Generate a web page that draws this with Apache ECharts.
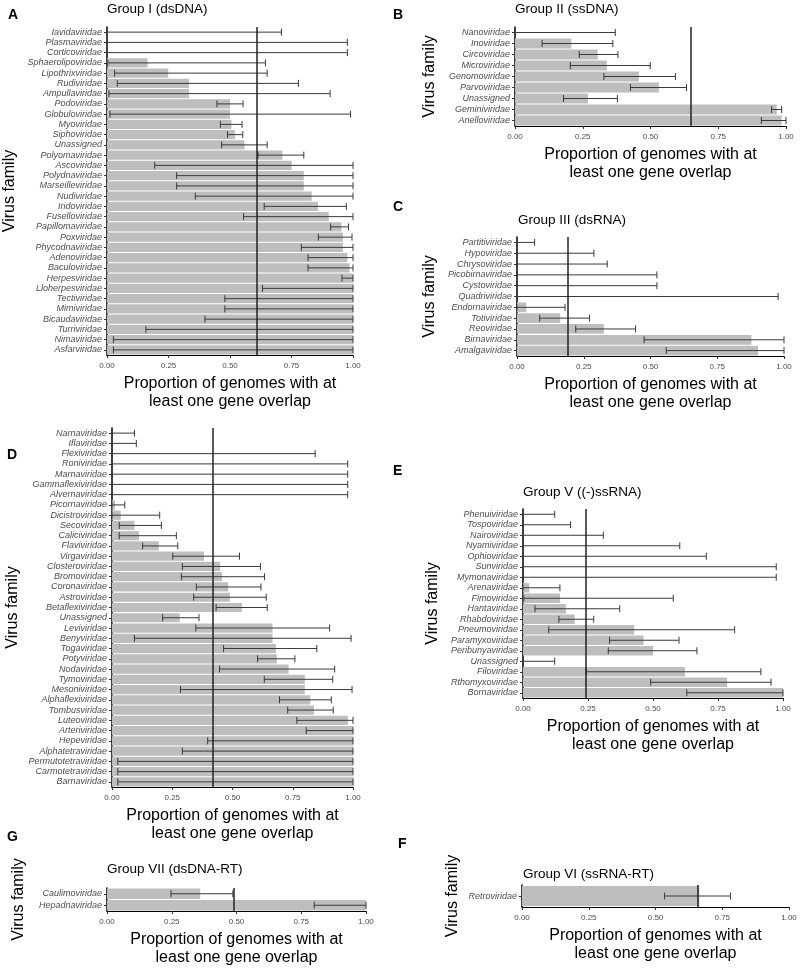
<!DOCTYPE html>
<html>
<head>
<meta charset="utf-8">
<script src="https://cdn.jsdelivr.net/npm/echarts@6/dist/echarts.min.js"></script>
<style>
html,body{margin:0;padding:0;background:#fff;}
#chart{width:800px;height:973px;}
</style>
</head>
<body>
<div id="chart"></div>
<script>
// ---------- DATA ----------
const xTicks = [0, 0.25, 0.5, 0.75, 1];

// Panel A: Group I (dsDNA)
const aFamilies = ['Iavidaviridae','Plasmaviridae','Corticoviridae','Sphaerolipoviridae','Lipothrixviridae','Rudiviridae','Ampullaviridae','Podoviridae','Globuloviridae','Myoviridae','Siphoviridae','Unassigned','Polyomaviridae','Ascoviridae','Polydnaviridae','Marseilleviridae','Nudiviridae','Iridoviridae','Fuselloviridae','Papillomaviridae','Poxviridae','Phycodnaviridae','Adenoviridae','Baculoviridae','Herpesviridae','Lloherpesviridae','Tectiviridae','Mimiviridae','Bicaudaviridae','Turriviridae','Nimaviridae','Asfarviridae'];
const aProp = [0,0,0,0.165,0.249,0.333,0.333,0.5,0.5,0.506,0.52,0.559,0.713,0.751,0.8,0.8,0.832,0.858,0.901,0.953,0.959,0.959,0.977,0.986,1,1,1,1,1,1,1,1];
const aLow  = [0,0,0,0.003,0.031,0.042,0.008,0.447,0.012,0.461,0.49,0.466,0.614,0.194,0.283,0.283,0.359,0.639,0.555,0.909,0.859,0.79,0.817,0.817,0.955,0.632,0.479,0.479,0.398,0.158,0.026,0.026];
const aHigh = [0.709,0.977,0.977,0.644,0.651,0.778,0.907,0.553,0.99,0.549,0.552,0.651,0.8,1,1,1,1,0.973,1,0.982,0.996,1,1,1,1,1,1,1,1,1,1,1];
const aRef = 0.61;

// Panel B: Group II (ssDNA)
const bFamilies = ['Nanoviridae','Inoviridae','Circoviridae','Microviridae','Genomoviridae','Parvoviridae','Unassigned','Geminiviridae','Anelloviridae'];
const bProp = [0,0.208,0.305,0.339,0.457,0.531,0.269,0.966,0.984];
const bLow  = [0,0.10,0.237,0.204,0.328,0.426,0.179,0.947,0.909];
const bHigh = [0.37,0.361,0.38,0.499,0.592,0.633,0.378,0.984,1];
const bRef = 0.652;

// Panel C: Group III (dsRNA)
const cFamilies = ['Partitiviridae','Hypoviridae','Chrysoviridae','Picobirnaviridae','Cystoviridae','Quadriviridae','Endornaviridae','Totiviridae','Reoviridae','Birnaviridae','Amalgaviridae'];
const cProp = [0,0,0,0,0,0,0.035,0.162,0.325,0.878,0.903];
const cLow  = [0,0,0,0,0,0,0,0.085,0.22,0.476,0.559];
const cHigh = [0.066,0.288,0.338,0.524,0.524,0.978,0.18,0.272,0.444,1,1];
const cRef = 0.191;

// Panel D: Group IV ((+)ssRNA)
const dFamilies = ['Narnaviridae','Iflaviridae','Flexiviridae','Roniviridae','Marnaviridae','Gammaflexiviridae','Alvernaviridae','Picornaviridae','Dicistroviridae','Secoviridae','Caliciviridae','Flaviviridae','Virgaviridae','Closteroviridae','Bromoviridae','Coronaviridae','Astroviridae','Betaflexiviridae','Unassigned','Leviviridae','Benyviridae','Togaviridae','Potyviridae','Nodaviridae','Tymoviridae','Mesoniviridae','Alphaflexiviridae','Tombusviridae','Luteoviridae','Arteriviridae','Hepeviridae','Alphatetraviridae','Permutotetraviridae','Carmotetraviridae','Barnaviridae'];
const dProp = [0,0,0,0,0,0,0,0.012,0.036,0.093,0.112,0.194,0.382,0.449,0.456,0.482,0.489,0.539,0.281,0.666,0.666,0.68,0.684,0.733,0.8,0.8,0.823,0.838,0.979,1,1,1,1,1,1];
const dLow  = [0,0,0,0,0,0,0,0,0,0.03,0.03,0.127,0.252,0.292,0.288,0.35,0.339,0.432,0.21,0.348,0.093,0.463,0.604,0.446,0.632,0.284,0.695,0.729,0.767,0.806,0.397,0.292,0.024,0.024,0.024];
const dHigh = [0.093,0.101,0.843,0.978,0.978,0.978,0.978,0.053,0.198,0.205,0.267,0.273,0.529,0.616,0.633,0.618,0.64,0.644,0.361,0.903,0.992,0.85,0.759,0.924,0.916,0.996,0.91,0.918,1,1,1,1,1,1,1];
const dRef = 0.425;

// Panel E: Group V ((-)ssRNA)
const eFamilies = ['Phenuiviridae','Tospoviridae','Nairoviridae','Nyamiviridae','Ophioviridae','Sunviridae','Mymonaviridae','Arenaviridae','Fimoviridae','Hantaviridae','Rhabdoviridae','Pneumoviridae','Paramyxoviridae','Peribunyaviridae','Unassigned','Filoviridae','Rthomyxoviridae','Bornaviridae'];
const eProp = [0,0,0,0,0,0,0,0.024,0.142,0.165,0.199,0.428,0.464,0.5,0,0.623,0.785,1];
const eLow  = [0,0,0,0,0,0,0,0,0.003,0.046,0.138,0.099,0.333,0.328,0,0.242,0.491,0.63];
const eHigh = [0.122,0.183,0.309,0.603,0.705,0.974,0.974,0.142,0.578,0.372,0.272,0.814,0.60,0.669,0.122,0.915,0.954,1];
const eRef = 0.241;

// Panel G: Group VII (dsDNA-RT)
const gFamilies = ['Caulimoviridae','Hepadnaviridae'];
const gProp = [0.36,1];
const gLow  = [0.247,0.80];
const gHigh = [0.486,1];
const gRef = 0.486;

// Panel F: Group VI (ssRNA-RT)
const fFamilies = ['Retroviridae'];
const fProp = [0.664];
const fLow  = [0.534];
const fHigh = [0.781];
const fRef = 0.664;

// ---------- LAYOUT ----------
const FONT = "'Liberation Sans', Arial, Helvetica, sans-serif";
const panels = [
  {fam:aFamilies, prop:aProp, lo:aLow, hi:aHigh, ref:aRef, grid:{left:107, top:27, width:246, height:328}, yGap:89, title:'Group I (dsDNA)', tPos:[107,2], letter:'A', lPos:[8,8]},
  {fam:bFamilies, prop:bProp, lo:bLow, hi:bHigh, ref:bRef, grid:{left:515, top:27, width:271, height:99}, yGap:77, title:'Group II (ssDNA)', tPos:[515,2], letter:'B', lPos:[393,8]},
  {fam:cFamilies, prop:cProp, lo:cLow, hi:cHigh, ref:cRef, grid:{left:517, top:237, width:267, height:119}, yGap:79, title:'Group III (dsRNA)', tPos:[518,213], letter:'C', lPos:[393,200]},
  {fam:dFamilies, prop:dProp, lo:dLow, hi:dHigh, ref:dRef, grid:{left:112, top:428, width:241, height:359}, yGap:91, title:'', tPos:[0,0], letter:'D', lPos:[7,448]},
  {fam:eFamilies, prop:eProp, lo:eLow, hi:eHigh, ref:eRef, grid:{left:523, top:509, width:260, height:189}, yGap:82, title:'Group V ((-)ssRNA)', tPos:[523,485], letter:'E', lPos:[393,464]},
  {fam:gFamilies, prop:gProp, lo:gLow, hi:gHigh, ref:gRef, grid:{left:107, top:888, width:259, height:23}, yGap:80, title:'Group VII (dsDNA-RT)', tPos:[107,862], letter:'G', lPos:[7,830]},
  {fam:fFamilies, prop:fProp, lo:fLow, hi:fHigh, ref:fRef, grid:{left:522, top:885, width:267, height:22}, yGap:61, title:'Group VI (ssRNA-RT)', tPos:[523,867], letter:'F', lPos:[398,837]}
];

const grids = [], xAxes = [], yAxes = [], series = [], titles = [];
panels.forEach((p, i) => {
  grids.push(Object.assign({containLabel:false}, p.grid));
  xAxes.push({
    type:'value', gridIndex:i, min:xTicks[0], max:xTicks[xTicks.length-1], interval:xTicks[1]-xTicks[0],
    axisLine:{show:true, onZero:false, lineStyle:{color:'#000', width:1}},
    axisTick:{show:true, length:3, lineStyle:{color:'#333'}},
    axisLabel:{color:'#4d4d4d', fontSize:8, fontFamily:FONT, margin:7, formatter:v=>v.toFixed(2)},
    splitLine:{show:false},
    name:'Proportion of genomes with at\nleast one gene overlap', nameLocation:'middle', nameGap:20,
    nameTextStyle:{color:'#000', fontSize:16, fontFamily:FONT, lineHeight:18}
  });
  yAxes.push({
    type:'category', gridIndex:i, data:p.fam, inverse:true,
    axisLine:{show:true, lineStyle:{color:'#000', width:1.5}},
    axisTick:{show:true, alignWithLabel:true, length:3, lineStyle:{color:'#333'}},
    axisLabel:{interval:0, color:'#4d4d4d', fontSize:9, fontStyle:'italic', fontFamily:FONT, margin:5},
    splitLine:{show:false},
    name:'Virus family', nameLocation:'middle', nameGap:p.yGap,
    nameTextStyle:{color:'#000', fontSize:16, fontFamily:FONT}
  });
  series.push({
    type:'bar', xAxisIndex:i, yAxisIndex:i, data:p.prop, barCategoryGap:'10%',
    itemStyle:{color:'#bebebe'}, silent:true, z:2,
    markLine:{silent:true, symbol:'none', label:{show:false},
      lineStyle:{color:'#222', width:1.5, type:'solid'}, data:[{xAxis:p.ref}], z:5}
  });
  series.push({
    type:'custom', xAxisIndex:i, yAxisIndex:i, z:4, silent:true,
    data:p.fam.map((f, k) => [p.lo[k], p.hi[k], k]),
    renderItem:(params, api) => {
      const k = api.value(2);
      const a = api.coord([api.value(0), k]);
      const b = api.coord([api.value(1), k]);
      const h = 3.5;
      const st = {stroke:'#3a3a3a', lineWidth:1};
      return {type:'group', children:[
        {type:'line', shape:{x1:a[0], y1:a[1], x2:b[0], y2:b[1]}, style:st},
        {type:'line', shape:{x1:a[0], y1:a[1]-h, x2:a[0], y2:a[1]+h}, style:st},
        {type:'line', shape:{x1:b[0], y1:b[1]-h, x2:b[0], y2:b[1]+h}, style:st}
      ]};
    }
  });
  if (p.title) titles.push({text:p.title, left:p.tPos[0], top:p.tPos[1], padding:0,
    textStyle:{color:'#000', fontSize:13.5, fontWeight:'normal', fontFamily:FONT}});
  titles.push({text:p.letter, left:p.lPos[0], top:p.lPos[1], padding:0,
    textStyle:{color:'#000', fontSize:14, fontWeight:'bold', fontFamily:FONT}});
});

const chart = echarts.init(document.getElementById('chart'), null, {renderer:'canvas'});
chart.setOption({
  animation:false, backgroundColor:'#fff',
  title:titles, grid:grids, xAxis:xAxes, yAxis:yAxes, series:series
});
</script>
</body>
</html>
